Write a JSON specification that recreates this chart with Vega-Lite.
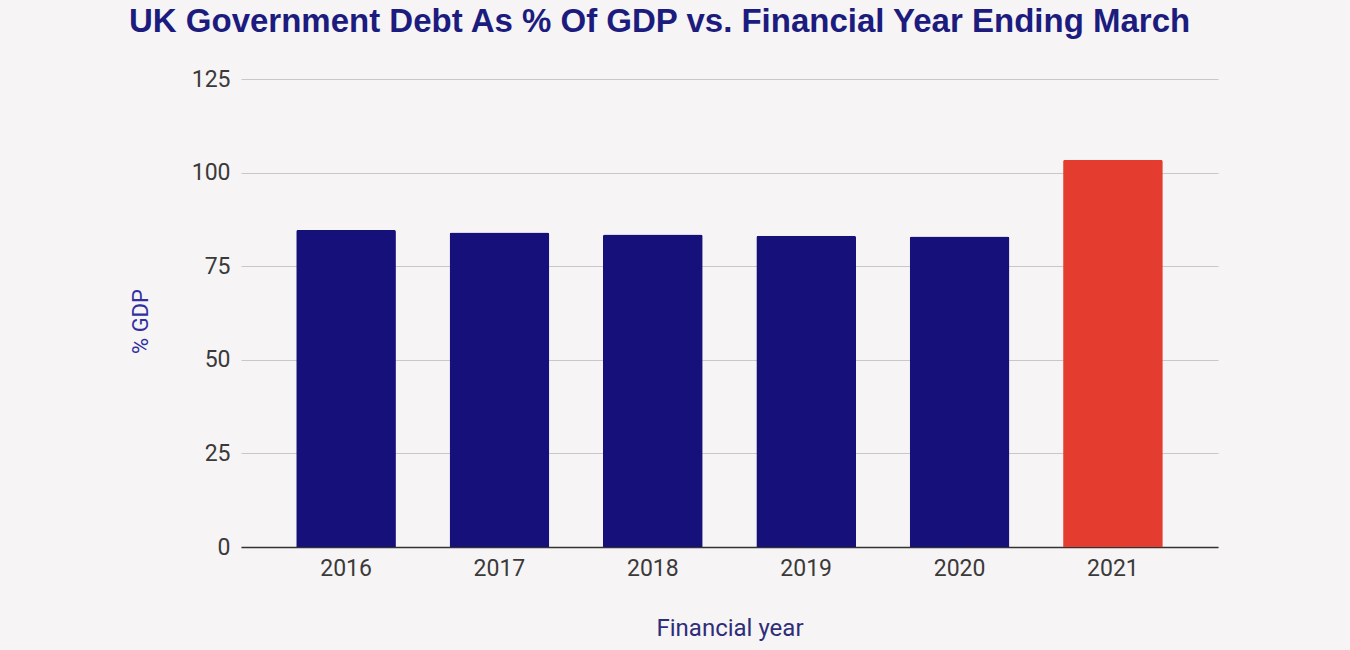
{
  "$schema": "https://vega.github.io/schema/vega-lite/v6.json",
  "width": 977,
  "height": 468,
  "autosize": {"type": "none"},
  "padding": {"left": 241, "top": 79, "right": 132, "bottom": 103},
  "background": "#f7f4f6",
  "title": {
    "text": "UK Government Debt As % Of GDP vs. Financial Year Ending March",
    "anchor": "start",
    "dx": 0,
    "offset": 29,
    "font": "Liberation Sans",
    "fontSize": 33,
    "fontWeight": "bold",
    "color": "#1c1c7e"
  },
  "config": {
    "view": {"stroke": null},
    "axis": {"labelFont": "Roboto", "titleFont": "Roboto"}
  },
  "data": {
    "values": [
      {"year": "2016", "debt": 84.7, "latest": "no"},
      {"year": "2017", "debt": 84.0, "latest": "no"},
      {"year": "2018", "debt": 83.5, "latest": "no"},
      {"year": "2019", "debt": 83.1, "latest": "no"},
      {"year": "2020", "debt": 82.9, "latest": "no"},
      {"year": "2021", "debt": 103.4, "latest": "yes"}
    ]
  },
  "mark": {"type": "bar", "cornerRadiusTopLeft": 2, "cornerRadiusTopRight": 2},
  "encoding": {
    "x": {
      "field": "year",
      "type": "ordinal",
      "title": "Financial year",
      "scale": {"paddingInner": 0.35, "paddingOuter": 0.36},
      "axis": {
        "labelAngle": 0,
        "labelFontSize": 23,
        "labelColor": "#3a3a3a",
        "labelPadding": 10,
        "ticks": false,
        "domainColor": "#333333",
        "domainWidth": 1.5,
        "titleFontSize": 24,
        "titleFontWeight": "normal",
        "titleColor": "#2e2d78",
        "titlePadding": 36
      }
    },
    "y": {
      "field": "debt",
      "type": "quantitative",
      "title": "% GDP",
      "scale": {"domain": [0, 125]},
      "axis": {
        "values": [0, 25, 50, 75, 100, 125],
        "labelFontSize": 23,
        "labelColor": "#3a3a3a",
        "labelPadding": 11,
        "ticks": false,
        "domain": false,
        "gridColor": "#c8c8c8",
        "gridWidth": 1,
        "titleFontSize": 22,
        "titleFontWeight": "normal",
        "titleColor": "#3030a0",
        "titleX": -89,
        "titleY": 242
      }
    },
    "color": {
      "field": "latest",
      "type": "nominal",
      "scale": {"domain": ["no", "yes"], "range": ["#15107a", "#e43d30"]},
      "legend": null
    },
    "tooltip": [
      {"field": "year", "type": "ordinal", "title": "Year"},
      {"field": "debt", "type": "quantitative", "title": "% GDP"}
    ]
  }
}
